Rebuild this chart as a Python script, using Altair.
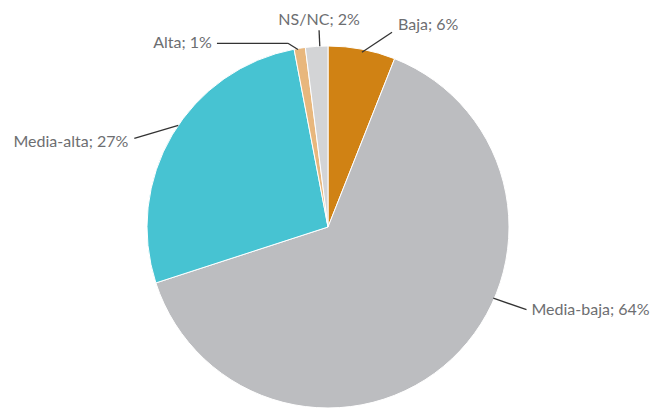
import math
import altair as alt
import pandas as pd

# ---- data ----
categories = ["Baja", "Media-baja", "Media-alta", "Alta", "NS/NC"]
values = [6, 64, 27, 1, 2]
colors = ["#D08214", "#BCBDC0", "#47C3D2", "#E8B77D", "#D3D4D6"]

# ---- layout (leader lines / labels, polar around pie centre) ----
CX, CY, R = 320, 219, 181
lead_a1 = [11.0, 113.3, 304.2, 350.4, 357.4]
lead_r1 = [178, 180, 181, 180, 181]
lead_a2 = [18.2, 112.6, 294.6, 347.7, 357.4]
lead_r2 = [205, 215, 213, 188, 197]
lead_ext = [0, 0, 0, -71, 0]
lab_dx = [6, 5, -6, -5, 0]
lab_dy = [-7, 0, 4, 0, -10]
lab_align = ["left", "left", "right", "right", "center"]

def polar(a, r):
    t = math.radians(a)
    return CX + r * math.sin(t), CY - r * math.cos(t)

pie_df = pd.DataFrame({"cat": categories, "val": values, "order": range(len(categories))})

seg_rows, lab_rows = [], []
for i, c in enumerate(categories):
    x1, y1 = polar(lead_a1[i], lead_r1[i])
    x2, y2 = polar(lead_a2[i], lead_r2[i])
    seg_rows.append({"x": x1, "y": y1, "x2": x2, "y2": y2})
    xe = x2 + lead_ext[i]
    if lead_ext[i] != 0:
        seg_rows.append({"x": x2, "y": y2, "x2": xe, "y2": y2})
    lab_rows.append({"label": f"{c}; {values[i]}%", "x": xe + lab_dx[i], "y": y2 + lab_dy[i], "align": lab_align[i]})
seg_df = pd.DataFrame(seg_rows)
lab_df = pd.DataFrame(lab_rows)

pie = alt.Chart(pie_df).mark_arc(radius=R, x=CX, y=CY, stroke="white", strokeWidth=1).encode(
    theta=alt.Theta("val:Q", stack=True),
    order=alt.Order("order:Q"),
    color=alt.Color("cat:N", scale=alt.Scale(domain=categories, range=colors), legend=None),
)

lines = alt.Chart(seg_df).mark_rule(color="#333333", strokeWidth=1.3).encode(
    x=alt.X("x:Q", scale=None), y=alt.Y("y:Q", scale=None),
    x2="x2:Q", y2="y2:Q",
)

texts = []
for al in ["left", "right", "center"]:
    sub = lab_df[lab_df["align"] == al]
    texts.append(
        alt.Chart(sub).mark_text(align=al, baseline="middle", font="Lato", fontSize=16, color="#6D6E71").encode(
            x=alt.X("x:Q", scale=None), y=alt.Y("y:Q", scale=None), text="label:N"
        )
    )

chart = alt.layer(pie, lines, *texts).properties(
    width=642, height=400, padding=0, autosize=alt.AutoSizeParams(type="none")
).configure_view(stroke=None)

chart.save("out.html", embed_options={"renderer": "svg", "actions": False})
